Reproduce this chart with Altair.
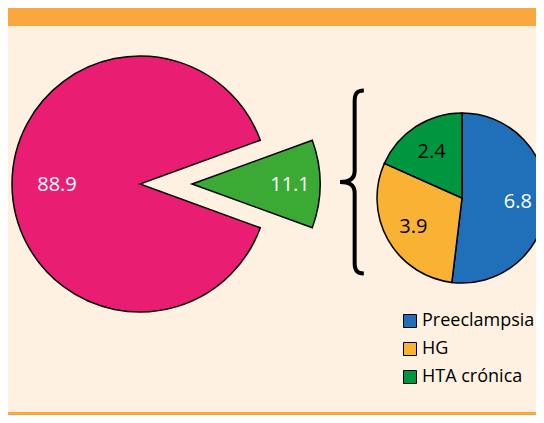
import math
import altair as alt
import pandas as pd

# ---- data ----
big_cats = ["Otras causas", "Hipertensión"]
big_vals = [88.9, 11.1]
big_cols = ["#E91E73", "#3BAA35"]

small_cats = ["Preeclampsia", "HG", "HTA crónica"]
small_vals = [6.8, 3.9, 2.4]
small_cols = ["#1F70B8", "#FAB234", "#00963F"]

# ---- style ----
W, H = 528, 407
CREAM = "#FEF1E2"
ORANGE = "#F9A73F"
FONT = "Open Sans"

big = pd.DataFrame({"cat": big_cats, "value": big_vals, "order": [2, 1]})
small = pd.DataFrame({"cat": small_cats, "value": small_vals, "order": [1, 2, 3]})
one = pd.DataFrame({"k": [0]})

green_share = big_vals[1] / sum(big_vals)
a0 = math.pi / 2 - math.pi * green_share
big_theta = alt.Scale(domain=[0, sum(big_vals)], range=[a0, a0 + 2 * math.pi])
small_total = sum(small_vals)
small_theta = alt.Scale(domain=[0, small_total], range=[0, 2 * math.pi])


def stacked(df):
    return alt.Chart(df).transform_stack(
        stack="value", as_=["v0", "v1"], groupby=[], sort=[alt.SortField("order")]
    ).transform_calculate(mid="(datum.v0 + datum.v1) / 2")


BX, BY, BR = 132, 176, 128
GX = 184
SX, SY, SR = 454, 190, 85

top_band = alt.Chart(one).mark_rect(color=ORANGE).encode(
    x=alt.value(0), x2=alt.value(W), y=alt.value(0), y2=alt.value(18))
bot_band = alt.Chart(one).mark_rect(color=ORANGE).encode(
    x=alt.value(0), x2=alt.value(W), y=alt.value(404), y2=alt.value(H))

base_big = stacked(big)
pink = base_big.transform_filter("datum.order == 2").mark_arc(
    outerRadius=BR, fill=big_cols[0], stroke="black", strokeWidth=1.5
).encode(theta=alt.Theta("v0:Q", scale=big_theta), theta2="v1:Q",
         x=alt.value(BX), y=alt.value(BY))
green = base_big.transform_filter("datum.order == 1").mark_arc(
    outerRadius=BR, fill=big_cols[1], stroke="black", strokeWidth=1.5
).encode(theta=alt.Theta("v0:Q", scale=big_theta), theta2="v1:Q",
         x=alt.value(GX), y=alt.value(BY))
pink_lbl = base_big.transform_filter("datum.order == 2").mark_text(
    radius=83, fontSize=20, font=FONT, color="white"
).encode(theta=alt.Theta("mid:Q", scale=big_theta),
         text=alt.Text("value:Q", format=".1f"),
         x=alt.value(BX), y=alt.value(BY + 1))
green_lbl = base_big.transform_filter("datum.order == 1").mark_text(
    radius=98, fontSize=20, font=FONT, color="white"
).encode(theta=alt.Theta("mid:Q", scale=big_theta),
         text=alt.Text("value:Q", format=".1f"),
         x=alt.value(GX), y=alt.value(BY + 1))

base_small = stacked(small)
small_arc = base_small.mark_arc(outerRadius=SR, stroke="black", strokeWidth=1.5).encode(
    theta=alt.Theta("v0:Q", scale=small_theta), theta2="v1:Q",
    color=alt.Color("cat:N", scale=alt.Scale(domain=small_cats, range=small_cols),
                    legend=alt.Legend(orient="none", legendX=393, legendY=304, title=None,
                                      symbolType="square", symbolSize=169,
                                      symbolStrokeColor="black", symbolStrokeWidth=1,
                                      symbolOpacity=1,
                                      labelFont=FONT, labelFontSize=18, labelColor="black",
                                      labelOffset=3, rowPadding=10, padding=0)),
    x=alt.value(SX), y=alt.value(SY))
small_lbl = base_small.mark_text(radius=56, fontSize=20, font=FONT).encode(
    theta=alt.Theta("mid:Q", scale=small_theta),
    text=alt.Text("value:Q", format=".1f"),
    color=alt.condition("datum.order == 1", alt.value("white"), alt.value("black")),
    x=alt.value(SX), y=alt.value(SY + 1))

BRACE = ("M0.14,-1C0.06,-1 0.04,-0.96 0.04,-0.88L0.04,-0.12"
         "C0.04,-0.03 -0.02,0 -0.12,0C-0.02,0 0.04,0.03 0.04,0.12"
         "L0.04,0.88C0.04,0.96 0.06,1 0.14,1")
brace = alt.Chart(one).mark_point(
    shape=BRACE, size=183 ** 2, filled=False, stroke="black", strokeWidth=4, opacity=1
).encode(x=alt.value(343), y=alt.value(174))

chart = alt.layer(
    top_band, bot_band, pink, green, pink_lbl, green_lbl, small_arc, small_lbl, brace
).resolve_scale(theta="independent").properties(
    width=W, height=H, padding=0, background=CREAM,
    autosize=alt.AutoSizeParams(type="none")
).configure_view(fill=CREAM, strokeWidth=0)

chart.save("out.html", embed_options={"renderer": "svg", "actions": False})
